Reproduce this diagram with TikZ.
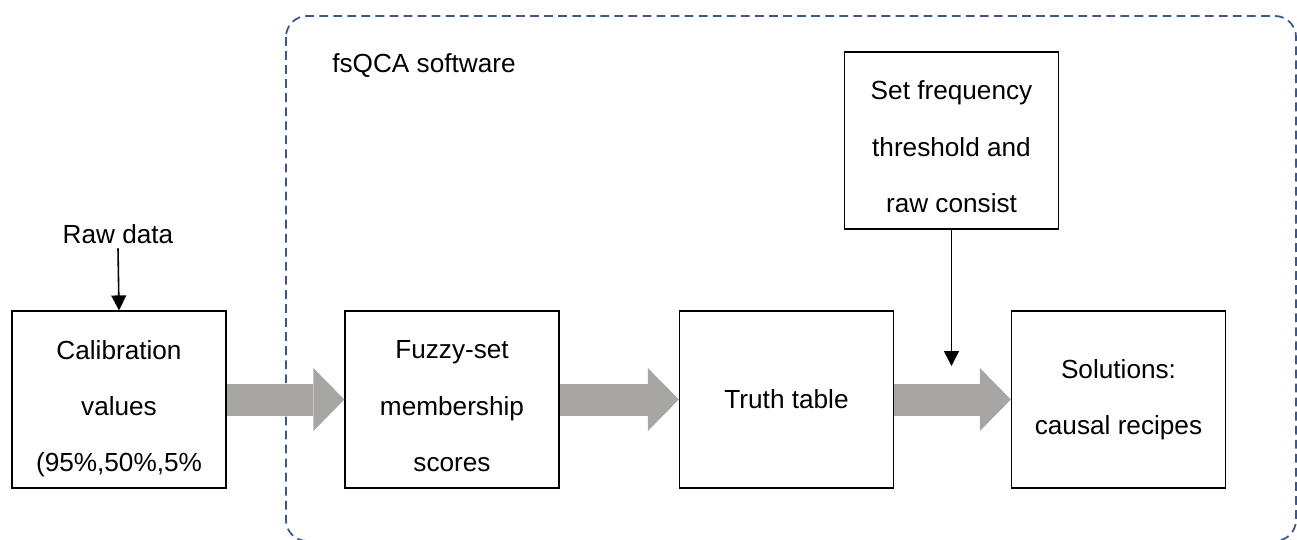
\documentclass[tikz,border=0pt]{standalone}
\usepackage{fontspec}
\setmainfont{Liberation Sans}
\usepackage{xcolor}
\usetikzlibrary{arrows.meta}
\definecolor{fatgray}{RGB}{167,166,164}
\definecolor{swblue}{RGB}{61,86,140}
\newcommand{\padtop}[1][18pt]{\rule{0pt}{#1}}

\begin{document}
\begin{tikzpicture}[x=0.02cm,y=-0.02cm,
  box/.style={draw,line width=0.75pt,minimum width=4.28cm,minimum height=3.54cm,
    align=center,inner sep=0pt,font=\fontsize{14.9}{32}\selectfont},
  plain/.style={inner sep=0pt,font=\fontsize{14.9}{32}\selectfont},
  fat/.style={line width=0.64cm,fatgray,-{Triangle[length=0.62cm,width=1.26cm,line width=0pt]}},
  thin/.style={line width=0.9pt,-{Triangle[length=8.5pt,width=8.5pt]}}]
\useasboundingbox (0,0) rectangle (1297,539);

\draw[swblue,line width=1pt,dash pattern=on 5pt off 3pt,rounded corners=0.42cm] (286,16) rectangle (1296,541);
\node[plain,anchor=base west] (sw) at (332,72) {fsQCA software};

\node[box] (calib) at (119,399.5) {\padtop[21pt]Calibration\\values\\(95\%,50\%,5\%};
\node[box] (fuzzy) at (452,399.5) {\padtop Fuzzy-set\\membership\\scores};
\node[box] (truth) at (786.5,399.5) {Truth table};
\node[box] (sol) at (1118.5,399.5) {Solutions:\\causal recipes};
\node[box] (setf) at (951.5,140.5) {\padtop Set frequency\\threshold and\\raw consist};

\node[plain,anchor=base,outer sep=0.1cm] (raw) at (118,243) {Raw data};
\coordinate (drop) at (951.5,366);

\draw[thin] (raw.south) -- (calib.north);
\draw[thin] (setf.south) -- (drop);

\draw[fat] (calib.east) -- (fuzzy.west);
\draw[fat] (fuzzy.east) -- (truth.west);
\draw[fat] (truth.east) -- (sol.west);
\end{tikzpicture}
\end{document}
